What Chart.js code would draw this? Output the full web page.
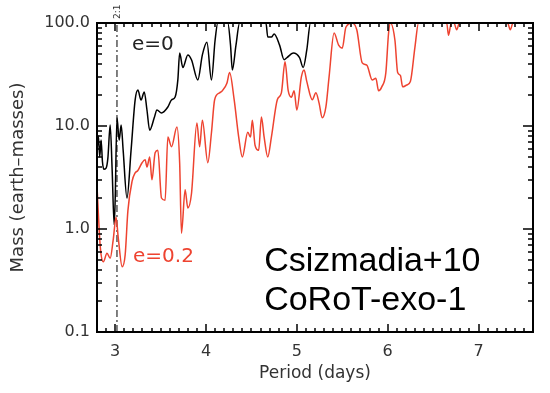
<!DOCTYPE html>
<html>
<head>
<meta charset="utf-8">
<script src="https://cdn.jsdelivr.net/npm/chart.js@4.4.0/dist/chart.umd.min.js"></script>
<style>
  html, body { margin: 0; padding: 0; background: #fff; }
  #wrap { width: 550px; height: 393px; }
</style>
</head>
<body>
<div id="wrap"><canvas id="massChart" width="550" height="393"></canvas></div>
<script>
// e=0 curve (black)
const periodE0 = [2.80, 2.815, 2.83, 2.845, 2.86, 2.875, 2.90, 2.92, 2.945, 2.967, 2.989, 3.0, 3.02, 3.044, 3.066, 3.088,
  3.13, 3.175, 3.22, 3.25, 3.285, 3.32, 3.35, 3.38, 3.43, 3.46, 3.51, 3.58, 3.62, 3.66, 3.69, 3.71, 3.745,
  3.80, 3.84, 3.91, 3.96, 4.01, 4.06, 4.10, 4.13, 4.24, 4.27, 4.29, 4.33, 4.37, 4.66, 4.68, 4.72, 4.75,
  4.81, 4.86, 4.89, 4.96, 5.03, 5.07, 5.11, 5.15, 7.6];
const massE0 = [5.8, 8.0, 5.0, 7.3, 4.5, 3.8, 3.9, 4.9, 10.2, 3.7, 1.1, 1.9, 12, 7.3, 10.2, 5.8,
  2.0, 5.8, 17.9, 22.3, 17.9, 21.4, 14.3, 9.1, 12, 14.3, 13.4, 15.3, 17.9, 19.1, 28, 51, 37,
  49, 44, 28, 49, 65, 28, 68, 100, 100, 61, 35, 61, 100, 100, 73, 73, 78,
  61, 44, 46, 51, 46, 37, 55, 100, 100];

// e=0.2 curve (red)
const periodE02 = [2.80, 2.836, 2.87, 2.91, 2.945, 2.978, 3.01, 3.033, 3.077, 3.11, 3.14, 3.186, 3.22, 3.25,
  3.296, 3.33, 3.35, 3.38, 3.405, 3.44, 3.47, 3.51, 3.55, 3.58, 3.62, 3.68, 3.71, 3.73, 3.77, 3.80, 3.84,
  3.90, 3.93, 3.96, 4.02, 4.06, 4.095, 4.15, 4.18, 4.23, 4.26, 4.31, 4.36, 4.40, 4.46, 4.49, 4.51, 4.54,
  4.58, 4.61, 4.64, 4.68, 4.72, 4.785, 4.83, 4.87, 4.905, 4.94, 4.97, 5.00, 5.05, 5.08, 5.11, 5.17, 5.21,
  5.245, 5.28, 5.32, 5.355, 5.41, 5.46, 5.50, 5.54, 5.61, 5.66, 5.72, 5.77, 5.83, 5.87, 5.90, 5.935, 5.98,
  6.01, 6.03, 6.08, 6.11, 6.14, 6.165, 6.21, 6.25, 6.30, 6.34, 6.65, 6.67, 6.70, 6.73, 6.76, 6.79, 7.32,
  7.35, 7.38, 7.6];
const massE02 = [2.6, 0.67, 0.48, 0.58, 0.52, 0.78, 1.3, 0.84, 0.43, 0.56, 1.5, 2.9, 3.5, 3.7,
  4.4, 4.7, 4.0, 5.0, 3.0, 5.5, 5.8, 2.0, 1.9, 7.8, 6.3, 9.8, 4.4, 0.91, 2.4, 1.6, 2.2,
  10.7, 6.3, 11.4, 4.4, 8.6, 18, 21, 22, 26, 33, 18, 7.8, 5.0, 8.7, 7.8, 11.4, 6.5,
  5.8, 12.2, 7.8, 5.0, 7.8, 18, 21, 42, 22, 19, 22, 14.3, 30, 35, 27, 18, 21,
  16.7, 12, 15.3, 30, 80, 61, 57, 91, 100, 86, 41, 39, 28, 29, 22, 24, 33,
  80, 100, 68, 33, 31, 24, 25, 27, 58, 100, 100, 76, 100, 100, 86, 100, 100,
  86, 100, 100];

const resonancePeriod = 3.02;
const periodRange = [2.8, 7.6];
const massRange = [0.1, 100];
const periodTicks = [3, 4, 5, 6, 7];
const massTicks = [0.1, 1, 10, 100];
const massTickLabels = ["0.1", "1.0", "10.0", "100.0"];

const toPoints = (xs, ys) => xs.map((x, i) => ({ x: x, y: ys[i] }));

// inward ticks on all four sides, frame, and the text labels
const frameTicks = {
  id: "frameTicks",
  afterDraw(chart) {
    const { ctx, chartArea: a, scales: { x, y } } = chart;
    ctx.save();
    ctx.setLineDash([]);
    ctx.strokeStyle = "#000";
    ctx.lineWidth = 1.5;
    ctx.beginPath();
    for (let i = Math.round(periodRange[0] * 10); i <= Math.round(periodRange[1] * 10); i++) {
      const px = Math.round(x.getPixelForValue(i / 10));
      const len = i % 10 === 0 ? 8 : 4;
      ctx.moveTo(px, a.bottom);
      ctx.lineTo(px, a.bottom - len);
      ctx.moveTo(px, a.top);
      ctx.lineTo(px, a.top + len);
    }
    massTicks.forEach((d, idx) => {
      const kmax = idx === massTicks.length - 1 ? 1 : 9;
      for (let k = 1; k <= kmax; k++) {
        const py = Math.round(y.getPixelForValue(d * k));
        const len = k === 1 ? 10 : 5;
        ctx.moveTo(a.left, py);
        ctx.lineTo(a.left + len, py);
        ctx.moveTo(a.right, py);
        ctx.lineTo(a.right - len, py);
      }
    });
    ctx.stroke();
    ctx.lineWidth = 2;
    ctx.strokeRect(a.left, a.top, a.right - a.left, a.bottom - a.top);

    // resonance label
    const rx = x.getPixelForValue(resonancePeriod);
    ctx.save();
    ctx.translate(rx + 1, a.top - 4);
    ctx.rotate(-Math.PI / 2);
    ctx.fillStyle = "#333";
    ctx.font = "9px 'DejaVu Sans'";
    ctx.textAlign = "left";
    ctx.textBaseline = "middle";
    ctx.fillText("2:1", 0, 0);
    ctx.restore();

    ctx.textAlign = "left";
    ctx.textBaseline = "alphabetic";
    ctx.font = "20px 'DejaVu Sans'";
    ctx.fillStyle = "#222";
    ctx.fillText("e=0", x.getPixelForValue(3.186), y.getPixelForValue(55));
    ctx.fillStyle = "#ee4330";
    ctx.fillText("e=0.2", x.getPixelForValue(3.197), y.getPixelForValue(0.48));

    ctx.fillStyle = "#000";
    ctx.font = "34px 'Liberation Sans'";
    ctx.fillText("Csizmadia+10", x.getPixelForValue(4.64), y.getPixelForValue(0.39));
    ctx.fillText("CoRoT-exo-1", x.getPixelForValue(4.64), y.getPixelForValue(0.164));
    ctx.restore();
  }
};

new Chart(document.getElementById("massChart"), {
  type: "line",
  data: {
    datasets: [
      {
        label: "e=0.2",
        data: toPoints(periodE02, massE02),
        borderColor: "#ee4330",
        borderWidth: 1.5,
        pointRadius: 0,
        cubicInterpolationMode: "monotone",
      },
      {
        label: "e=0",
        data: toPoints(periodE0, massE0),
        borderColor: "#000",
        borderWidth: 1.5,
        pointRadius: 0,
        cubicInterpolationMode: "monotone",
      },
      {
        label: "2:1",
        data: [{ x: resonancePeriod, y: massRange[0] }, { x: resonancePeriod, y: massRange[1] }],
        borderColor: "#000",
        borderWidth: 1,
        borderDash: [7, 3, 2, 3],
        pointRadius: 0,
      },
    ],
  },
  options: {
    responsive: false,
    animation: false,
    layout: { padding: { left: 6, right: 17, top: 23, bottom: 6 } },
    plugins: { legend: { display: false }, tooltip: { enabled: false } },
    scales: {
      x: {
        type: "linear",
        min: periodRange[0],
        max: periodRange[1],
        afterBuildTicks: (s) => { s.ticks = periodTicks.map((v) => ({ value: v })); },
        afterFit: (s) => { s.height = 55; },
        grid: { display: false, drawTicks: false },
        border: { display: false },
        ticks: {
          autoSkip: false,
          maxRotation: 0,
          padding: 10,
          color: "#333",
          font: { family: "DejaVu Sans", size: 16 },
          callback: (v) => String(v),
        },
        title: {
          display: true,
          text: "Period (days)",
          color: "#333",
          font: { family: "DejaVu Sans", size: 17 },
          padding: { top: 0, bottom: 3 },
        },
      },
      y: {
        type: "logarithmic",
        min: massRange[0],
        max: massRange[1],
        afterBuildTicks: (s) => { s.ticks = massTicks.map((v) => ({ value: v })); },
        afterFit: (s) => { s.width = 91; },
        grid: { display: false, drawTicks: false },
        border: { display: false },
        ticks: {
          autoSkip: false,
          padding: 7,
          color: "#333",
          font: { family: "DejaVu Sans", size: 16 },
          callback: (v) => massTickLabels[massTicks.indexOf(v)],
        },
        title: {
          display: true,
          text: "Mass (earth\u2013masses)",
          color: "#333",
          font: { family: "DejaVu Sans", size: 18 },
          padding: { top: 2, bottom: 0 },
        },
      },
    },
  },
  plugins: [frameTicks],
});
</script>
</body>
</html>
